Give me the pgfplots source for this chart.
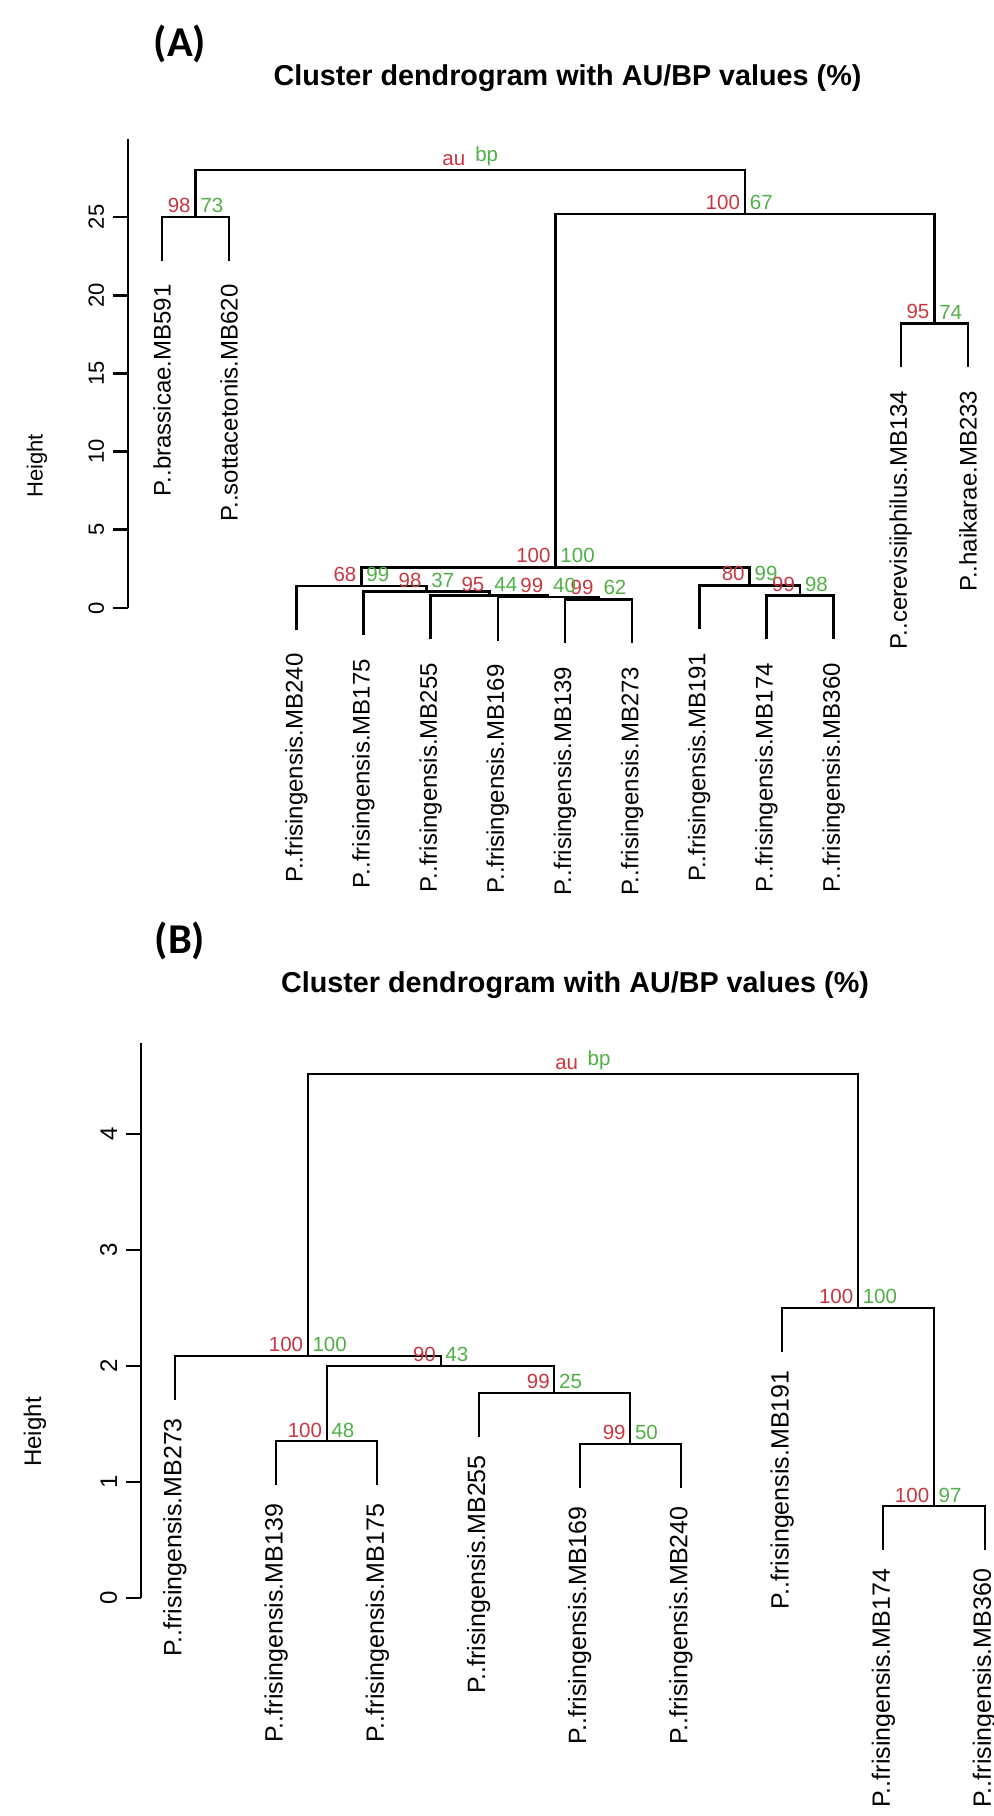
\documentclass[border=0pt]{standalone}
\usepackage{fontspec}
\setmainfont{Liberation Sans}
\newfontfamily\calibri{Carlito}
\usepackage{pgfplots}
\pgfplotsset{compat=1.18}
\definecolor{au}{RGB}{200,55,65}
\definecolor{bp}{RGB}{80,175,70}

\pgfplotsset{
  dendro/.style={
    scale only axis, clip=false,
    axis x line=none, axis y line*=left,
    xtick=\empty, tick align=outside,
    major tick length=6pt,
    y axis line style={line width=1.1pt},
    major tick style={line width=1.1pt, black},
    cycle list={{black,solid,mark=none}},
    /pgf/number format/assume math mode=true,
  },
  aulab/.style={draw=none, mark=none, nodes near coords, point meta=explicit symbolic,
    every node near coord/.style={anchor=south east, text=au, inner sep=0pt,
      xshift=-1.5pt, yshift=1.2pt, font=\fontsize{8.2}{9}\selectfont}},
  bplab/.style={draw=none, mark=none, nodes near coords, point meta=explicit symbolic,
    every node near coord/.style={anchor=south west, text=bp, inner sep=0pt,
      xshift=1.5pt, yshift=1.2pt, font=\fontsize{8.2}{9}\selectfont}},
}

\begin{document}
\begin{tikzpicture}
\path[use as bounding box] (0,0) rectangle (397.2pt,726.4pt);

% ---------- (A) ----------
\node[font=\calibri\bfseries\fontsize{17}{19}\selectfont] at (72pt,709pt) {(A)};
\node[font=\bfseries\fontsize{11.5}{13}\selectfont] at (227pt,695pt) {Cluster dendrogram with AU/BP values (\%)};
\node[rotate=90, font=\fontsize{8.8}{10}\selectfont] at (14.8pt,540pt) {Height};

\begin{axis}[dendro,
  at={(51.2pt,483.2pt)}, anchor=south west,
  width=349.4pt, height=187.7pt,
  xmin=0.494, xmax=13.5, ymin=0, ymax=30,
  ytick={0,5,10,15,20,25},
  yticklabel style={rotate=90, anchor=south, font=\fontsize{8.8}{10}\selectfont},
]
\pgfplotsset{every axis plot/.append style={line width=1pt}}
% merges: leaf -> top -> across -> down
\addplot coordinates {(7,-2.25) (7,0.55) (8,0.55) (8,-2.25)};
\addplot coordinates {(6,-2.1) (6,0.7) (7.5,0.7) (7.5,0.55)};
\addplot coordinates {(5,-2.0) (5,0.8) (6.75,0.8) (6.75,0.7)};
\addplot coordinates {(4,-1.75) (4,1.05) (5.875,1.05) (5.875,0.8)};
\addplot coordinates {(3,-1.4) (3,1.4) (4.9375,1.4) (4.9375,1.05)};
\addplot coordinates {(10,-2.0) (10,0.8) (11,0.8) (11,-2.0)};
\addplot coordinates {(9,-1.35) (9,1.45) (10.5,1.45) (10.5,0.8)};
\addplot coordinates {(3.969,1.4) (3.969,2.6) (9.75,2.6) (9.75,1.45)};
\addplot coordinates {(12,15.4) (12,18.2) (13,18.2) (13,15.4)};
\addplot coordinates {(6.859,2.6) (6.859,25.2) (12.5,25.2) (12.5,18.2)};
\addplot coordinates {(1,22.2) (1,25) (2,25) (2,22.2)};
\addplot coordinates {(1.5,25) (1.5,28) (9.68,28) (9.68,25.2)};

\addplot[aulab] coordinates {(5.59,28)[au] (1.5,25)[98] (9.68,25.2)[100] (12.5,18.2)[95]
  (6.859,2.6)[100] (3.969,1.4)[68] (4.9375,1.05)[98] (5.875,0.8)[95] (6.75,0.7)[99]
  (7.5,0.55)[99] (9.75,1.45)[80] (10.5,0.8)[99]};
\addplot[bplab] coordinates {(5.59,28)[bp] (1.5,25)[73] (9.68,25.2)[67] (12.5,18.2)[74]
  (6.859,2.6)[100] (3.969,1.4)[99] (4.9375,1.05)[37] (5.875,0.8)[44] (6.75,0.7)[40]
  (7.5,0.55)[62] (9.75,1.45)[99] (10.5,0.8)[98]};

\addplot[draw=none, mark=none, nodes near coords, point meta=explicit symbolic,
  every node near coord/.style={yshift=-9pt, rotate=90, anchor=east, inner sep=0pt,
    text=black, font=\fontsize{9.6}{10}\selectfont}]
  coordinates {(1,22.2)[P..brassicae.MB591] (2,22.2)[P..sottacetonis.MB620]
  (3,-1.4)[P..frisingensis.MB240] (4,-1.75)[P..frisingensis.MB175]
  (5,-2.0)[P..frisingensis.MB255] (6,-2.1)[P..frisingensis.MB169]
  (7,-2.25)[P..frisingensis.MB139] (8,-2.25)[P..frisingensis.MB273]
  (9,-1.35)[P..frisingensis.MB191] (10,-2.0)[P..frisingensis.MB174]
  (11,-2.0)[P..frisingensis.MB360] (12,15.4)[P..cerevisiiphilus.MB134]
  (13,15.4)[P..haikarae.MB233]};
\end{axis}

% ---------- (B) ----------
\node[font=\calibri\bfseries\fontsize{17}{19}\selectfont] at (72pt,350pt) {(B)};
\node[font=\bfseries\fontsize{11.5}{13}\selectfont] at (230pt,332.4pt) {Cluster dendrogram with AU/BP values (\%)};
\node[rotate=90, font=\fontsize{9.6}{11}\selectfont] at (14pt,153.6pt) {Height};

\begin{axis}[dendro,
  at={(56.4pt,87.2pt)}, anchor=south west,
  width=345.5pt, height=221.8pt,
  xmin=0.664, xmax=9.2, ymin=0, ymax=4.78,
  ytick={0,1,2,3,4},
  yticklabel style={rotate=90, anchor=south, font=\fontsize{9.6}{11}\selectfont},
]
\pgfplotsset{every axis plot/.append style={line width=0.8pt}}
\addplot coordinates {(2,0.97) (2,1.35) (3,1.35) (3,0.97)};
\addplot coordinates {(5,0.95) (5,1.33) (6,1.33) (6,0.95)};
\addplot coordinates {(4,1.39) (4,1.77) (5.5,1.77) (5.5,1.33)};
\addplot coordinates {(2.5,1.35) (2.5,2.0) (4.75,2.0) (4.75,1.77)};
\addplot coordinates {(1,1.71) (1,2.09) (3.625,2.09) (3.625,2.0)};
\addplot coordinates {(8,0.41) (8,0.79) (9,0.79) (9,0.41)};
\addplot coordinates {(7,2.12) (7,2.5) (8.5,2.5) (8.5,0.79)};
\addplot coordinates {(2.3125,2.09) (2.3125,4.52) (7.75,4.52) (7.75,2.5)};

\addplot[aulab] coordinates {(5.031,4.52)[au] (7.75,2.5)[100] (8.5,0.79)[100]
  (2.3125,2.09)[100] (3.625,2.0)[90] (4.75,1.77)[99] (2.5,1.35)[100] (5.5,1.33)[99]};
\addplot[bplab] coordinates {(5.031,4.52)[bp] (7.75,2.5)[100] (8.5,0.79)[97]
  (2.3125,2.09)[100] (3.625,2.0)[43] (4.75,1.77)[25] (2.5,1.35)[48] (5.5,1.33)[50]};

\addplot[draw=none, mark=none, nodes near coords, point meta=explicit symbolic,
  every node near coord/.style={yshift=-7pt, rotate=90, anchor=east, inner sep=0pt,
    text=black, font=\fontsize{10}{11}\selectfont}]
  coordinates {(1,1.71)[P..frisingensis.MB273] (2,0.97)[P..frisingensis.MB139]
  (3,0.97)[P..frisingensis.MB175] (4,1.39)[P..frisingensis.MB255]
  (5,0.95)[P..frisingensis.MB169] (6,0.95)[P..frisingensis.MB240]
  (7,2.12)[P..frisingensis.MB191] (8,0.41)[P..frisingensis.MB174]
  (9,0.41)[P..frisingensis.MB360]};
\end{axis}
\end{tikzpicture}
\end{document}
